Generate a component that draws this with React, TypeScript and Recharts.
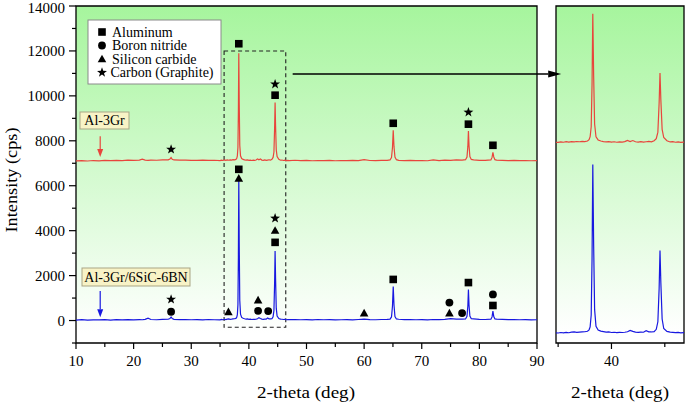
import React from 'react';
import { ComposedChart, Line, Scatter, XAxis, YAxis, ReferenceArea, ReferenceLine } from 'recharts';

// 2-theta positions (deg)
const twoTheta = [
  10, 11, 12, 13, 14, 15, 16, 17, 18, 19,
  20, 21, 21.5, 22, 22.5, 23, 24, 25, 26, 26.3,
  26.5, 26.7, 27, 28, 29, 30, 31, 32, 33, 34,
  35, 35.25, 35.5, 35.75, 36, 36.25, 36.5, 36.75, 37, 37.25,
  37.5, 37.75, 37.9, 38.0, 38.1, 38.18, 38.25, 38.33, 38.42, 38.55,
  38.75, 39.0, 39.25, 39.5, 39.75, 40, 40.25, 40.5, 40.75, 41,
  41.25, 41.5, 41.75, 42, 42.25, 42.5, 42.75, 43, 43.25, 43.5,
  43.75, 44.0, 44.2, 44.35, 44.47, 44.55, 44.63, 44.75, 44.9, 45.2,
  45.5, 45.75, 46, 46.25, 46.5, 46.75, 47, 48, 49, 50,
  51, 52, 53, 54, 55, 56, 57, 58, 59, 60,
  61, 62, 63, 64, 64.5, 64.75, 64.92, 65.05, 65.18, 65.35,
  65.6, 66, 67, 68, 69, 70, 71, 72, 73, 74,
  75, 76, 77, 77.6, 77.85, 78.0, 78.1, 78.2, 78.35, 78.6,
  79, 80, 81, 82.0, 82.2, 82.35, 82.5, 82.7, 83, 84,
  85, 86, 87, 88, 89, 90,
];

// Al-3Gr intensity (cps, offset)
const al3Gr = [
  7105, 7118, 7100, 7122, 7110, 7128, 7115, 7132, 7120, 7136,
  7125, 7140, 7185, 7138, 7130, 7142, 7135, 7148, 7150, 7185,
  7255, 7180, 7148, 7138, 7142, 7132, 7128, 7138, 7125, 7134,
  7118, 7140, 7124, 7146, 7128, 7150, 7135, 7152, 7142, 7158,
  7150, 7170, 7220, 7330, 7700, 9300, 11900, 9600, 7800, 7330,
  7210, 7170, 7150, 7138, 7148, 7128, 7142, 7124, 7138, 7132,
  7146, 7195, 7152, 7188, 7142, 7132, 7148, 7128, 7142, 7155,
  7138, 7180, 7260, 7500, 8600, 9700, 8700, 7600, 7300, 7180,
  7135, 7145, 7124, 7138, 7118, 7130, 7122, 7134, 7118, 7128,
  7112, 7122, 7116, 7126, 7112, 7122, 7116, 7126, 7120, 7165,
  7122, 7116, 7126, 7132, 7150, 7250, 7700, 8470, 7750, 7280,
  7160, 7130, 7120, 7126, 7116, 7122, 7112, 7152, 7120, 7140,
  7126, 7150, 7142, 7160, 7280, 7750, 8430, 7800, 7300, 7170,
  7150, 7132, 7126, 7150, 7260, 7490, 7280, 7160, 7140, 7130,
  7120, 7126, 7116, 7122, 7112, 7118,
];

// Al-3Gr/6SiC-6BN intensity (cps)
const al3GrSiCBN = [
  22, 36, 18, 32, 26, 40, 22, 36, 30, 44,
  28, 40, 36, 50, 105, 46, 36, 50, 56, 90,
  160, 85, 50, 40, 46, 36, 42, 30, 46, 36,
  32, 50, 36, 56, 42, 62, 72, 56, 62, 70,
  78, 95, 150, 260, 700, 2800, 6300, 3300, 900, 280,
  140, 100, 80, 62, 70, 50, 60, 46, 56, 50,
  60, 78, 130, 92, 62, 56, 66, 60, 115, 76,
  70, 80, 170, 450, 1700, 3100, 1900, 550, 200, 90,
  62, 56, 46, 52, 36, 46, 40, 46, 36, 42,
  30, 46, 36, 42, 30, 36, 42, 30, 46, 62,
  40, 36, 46, 52, 60, 160, 650, 1510, 700, 180,
  70, 56, 40, 46, 36, 42, 30, 46, 40, 52,
  82, 60, 66, 70, 190, 650, 1380, 700, 200, 80,
  70, 50, 46, 60, 160, 420, 180, 70, 60, 50,
  40, 46, 36, 42, 30, 36,
];

// phase markers (2-theta, label height)
const aluminumMarks = [
  { x: 38.25, y: 12320 }, { x: 44.55, y: 10030 }, { x: 65.05, y: 8780 }, { x: 78.1, y: 8740 }, { x: 82.35, y: 7800 },
  { x: 38.25, y: 6730 }, { x: 44.55, y: 3480 }, { x: 65.05, y: 1830 }, { x: 78.1, y: 1690 }, { x: 82.35, y: 670 },
];
const boronNitrideMarks = [
  { x: 26.5, y: 390 }, { x: 41.6, y: 430 }, { x: 43.35, y: 420 }, { x: 74.8, y: 800 }, { x: 77.0, y: 330 }, { x: 82.35, y: 1160 },
];
const siliconCarbideMarks = [
  { x: 36.45, y: 390 }, { x: 38.25, y: 6330 }, { x: 41.6, y: 910 }, { x: 44.55, y: 4010 }, { x: 60.0, y: 330 }, { x: 74.8, y: 330 },
];
const graphiteMarks = [
  { x: 26.5, y: 7620 }, { x: 44.55, y: 10520 }, { x: 78.1, y: 9270 }, { x: 26.5, y: 940 }, { x: 44.55, y: 4550 },
];

const legendItems = ['Aluminum', 'Boron nitride', 'Silicon carbide', 'Carbon (Graphite)'];
const sampleLabels = ['Al-3Gr', 'Al-3Gr/6SiC-6BN'];

const mainXTicks = [10, 15, 20, 25, 30, 35, 40, 45, 50, 55, 60, 65, 70, 75, 80, 85, 90];
const mainYTicks = [-1000, 0, 1000, 2000, 3000, 4000, 5000, 6000, 7000, 8000, 9000, 10000, 11000, 12000, 13000, 14000];
const zoomXTicks = [35, 40, 45];

const rows = twoTheta.map((x, i) => ({ x, red: al3Gr[i], blue: al3GrSiCBN[i] }));

const FONT = '"Liberation Serif", "Times New Roman", serif';
const RED = '#e8453c';
const BLUE = '#1818e0';

const squareShape = (p: any) => <rect x={p.cx - 3.8} y={p.cy - 3.8} width={7.6} height={7.6} fill="#000" />;
const circleShape = (p: any) => <circle cx={p.cx} cy={p.cy} r={3.9} fill="#000" />;
const triPoints = (cx: number, cy: number, s = 4.3) =>
  `${cx},${cy - s} ${cx - s},${cy + s * 0.78} ${cx + s},${cy + s * 0.78}`;
const triangleShape = (p: any) => <polygon points={triPoints(p.cx, p.cy)} fill="#000" />;
const starPoints = (cx: number, cy: number, ro = 5.2, ri = 2.1) => {
  const pts: string[] = [];
  for (let k = 0; k < 10; k++) {
    const r = k % 2 === 0 ? ro : ri;
    const a = -Math.PI / 2 + (k * Math.PI) / 5;
    pts.push(`${(cx + r * Math.cos(a)).toFixed(2)},${(cy + r * Math.sin(a)).toFixed(2)}`);
  }
  return pts.join(' ');
};
const starShape = (p: any) => <polygon points={starPoints(p.cx, p.cy)} fill="#000" />;

const arrowShape = (color: string, head: number, half: number, width: number) => (p: any) => {
  const { x1, y1, x2, y2 } = p;
  const dx = x2 - x1;
  const dy = y2 - y1;
  const len = Math.hypot(dx, dy) || 1;
  const ux = dx / len;
  const uy = dy / len;
  const bx = x2 - ux * head;
  const by = y2 - uy * head;
  return (
    <g>
      <line x1={x1} y1={y1} x2={bx} y2={by} stroke={color} strokeWidth={width} />
      <polygon
        points={`${x2},${y2} ${bx - uy * half},${by + ux * half} ${bx + uy * half},${by - ux * half}`}
        fill={color}
      />
    </g>
  );
};

const makeXTick = (labelEvery: number) => (props: any) => {
  const { x, y, payload } = props;
  const v = payload.value;
  const major = Math.abs(v % labelEvery) < 1e-6;
  return (
    <g>
      <line x1={x} x2={x} y1={y} y2={y + (major ? 6 : 4)} stroke="#000" strokeWidth={1.2} />
      {major && (
        <text x={x} y={y + 23} textAnchor="middle" fontFamily={FONT} fontSize={15} fill="#000">
          {v}
        </text>
      )}
    </g>
  );
};

const YTick = (props: any) => {
  const { x, y, payload } = props;
  const v = payload.value;
  const major = v >= 0 && v % 2000 === 0;
  const shift = v === 14000 ? 1.5 : 0;
  return (
    <g>
      <line x1={x} x2={x - (major ? 7 : 4)} y1={y} y2={y} stroke="#000" strokeWidth={1.2} />
      {major && (
        <text x={x - 11} y={y + shift} dy="0.35em" textAnchor="end" fontFamily={FONT} fontSize={15} fill="#000">
          {v}
        </text>
      )}
    </g>
  );
};

const MarkerGlyph = ({ kind, cx, cy }: { kind: number; cx: number; cy: number }) => {
  if (kind === 0) return squareShape({ cx, cy });
  if (kind === 1) return circleShape({ cx, cy });
  if (kind === 2) return triangleShape({ cx, cy });
  return starShape({ cx, cy });
};

export default function App() {
  return (
    <div style={{ position: 'absolute', left: 0, top: 0, width: 685, height: 404, background: '#fff', overflow: 'hidden' }}>
      <svg width={0} height={0} style={{ position: 'absolute' }}>
        <defs>
          <linearGradient id="bgGreen" x1="0" y1="0" x2="0" y2="1">
            <stop offset="0" stopColor="#a6f59d" />
            <stop offset="0.97" stopColor="#ffffff" />
            <stop offset="1" stopColor="#ffffff" />
          </linearGradient>
        </defs>
      </svg>

      {/* zoomed panel */}
      <div style={{ position: 'absolute', left: 540, top: 0 }}>
        <ComposedChart width={145} height={404} data={rows} margin={{ top: 6, right: 1, bottom: 0, left: 16 }}>
          <XAxis
            type="number"
            dataKey="x"
            domain={[34.8, 46.8]}
            ticks={zoomXTicks}
            interval={0}
            allowDataOverflow
            height={61}
            tickSize={0}
            tickMargin={0}
            tickLine={false}
            axisLine={false}
            tick={makeXTick(10)}
          />
          <YAxis type="number" hide domain={[-340, 12190]} allowDataOverflow />
          <ReferenceArea x1={34.8} x2={46.8} y1={-340} y2={12190} fill="url(#bgGreen)" fillOpacity={1} stroke="#000" strokeWidth={1.3} ifOverflow="visible" />
          <Line type="linear" dataKey="red" stroke={RED} strokeWidth={1.2} dot={false} isAnimationActive={false} />
          <Line type="linear" dataKey="blue" stroke={BLUE} strokeWidth={1.2} dot={false} isAnimationActive={false} />
        </ComposedChart>
      </div>

      {/* main panel */}
      <div style={{ position: 'absolute', left: 0, top: 0 }}>
        <ComposedChart width={685} height={404} data={rows} margin={{ top: 6, right: 148, bottom: 0, left: 10 }}>
          <XAxis
            type="number"
            dataKey="x"
            domain={[10, 90]}
            ticks={mainXTicks}
            interval={0}
            allowDataOverflow
            height={61}
            tickSize={0}
            tickMargin={0}
            tickLine={false}
            axisLine={false}
            tick={makeXTick(10)}
          />
          <YAxis
            type="number"
            domain={[-1000, 14000]}
            ticks={mainYTicks}
            interval={0}
            allowDataOverflow
            width={66}
            tickSize={0}
            tickMargin={0}
            tickLine={false}
            axisLine={false}
            tick={YTick}
          />
          <ReferenceArea x1={10} x2={90} y1={-1000} y2={14000} fill="url(#bgGreen)" fillOpacity={1} stroke="#000" strokeWidth={1.3} ifOverflow="visible" />
          <ReferenceArea x1={35.7} x2={46.4} y1={-300} y2={12000} fill="none" fillOpacity={0} stroke="#222" strokeWidth={1.1} strokeDasharray="4 3" ifOverflow="visible" />
          <Line type="linear" dataKey="red" stroke={RED} strokeWidth={1.2} dot={false} isAnimationActive={false} />
          <Line type="linear" dataKey="blue" stroke={BLUE} strokeWidth={1.2} dot={false} isAnimationActive={false} />
          <Scatter data={aluminumMarks} dataKey="y" shape={squareShape} isAnimationActive={false} />
          <Scatter data={boronNitrideMarks} dataKey="y" shape={circleShape} isAnimationActive={false} />
          <Scatter data={siliconCarbideMarks} dataKey="y" shape={triangleShape} isAnimationActive={false} />
          <Scatter data={graphiteMarks} dataKey="y" shape={starShape} isAnimationActive={false} />
          <ReferenceLine segment={[{ x: 47.6, y: 10970 }, { x: 94.2, y: 10970 }]} ifOverflow="visible" shape={arrowShape('#000', 13, 3.5, 1.5)} />
          <ReferenceLine segment={[{ x: 14.2, y: 8200 }, { x: 14.2, y: 7280 }]} ifOverflow="visible" shape={arrowShape(RED, 8, 3, 1.2)} />
          <ReferenceLine segment={[{ x: 14.2, y: 1320 }, { x: 14.2, y: 150 }]} ifOverflow="visible" shape={arrowShape(BLUE, 8, 3, 1.2)} />
        </ComposedChart>
      </div>

      {/* annotations */}
      <svg width={685} height={404} style={{ position: 'absolute', left: 0, top: 0, pointerEvents: 'none' }}>
        <rect x={88} y={20} width={133} height={64} fill="#fff" stroke="#8a8a8a" strokeWidth={1} />
        {legendItems.map((name, i) => (
          <g key={name}>
            <MarkerGlyph kind={i} cx={102} cy={32 + i * 13.5} />
            <text x={112 - (i === 3 ? 1.5 : 0)} y={32 + i * 13.5} dy="0.35em" fontFamily={FONT} fontSize={14} fill="#000">
              {name}
            </text>
          </g>
        ))}
        <rect x={80} y={112} width={49} height={17} fill="#f8f3c6" stroke="#a9a585" strokeWidth={1} />
        <text x={104.5} y={120.5} dy="0.35em" textAnchor="middle" fontFamily={FONT} fontSize={14} fill="#000">
          {sampleLabels[0]}
        </text>
        <rect x={82} y={268} width={108} height={18} fill="#f8f3c6" stroke="#a9a585" strokeWidth={1} />
        <text x={136} y={277} dy="0.35em" textAnchor="middle" fontFamily={FONT} fontSize={14} fill="#000">
          {sampleLabels[1]}
        </text>
        <text
          transform="translate(17,180) rotate(-90)"
          textAnchor="middle"
          fontFamily={FONT}
          fontSize={17}
          textLength={105}
          lengthAdjust="spacingAndGlyphs"
          fill="#000"
        >
          Intensity (cps)
        </text>
        <text x={306} y={398} textAnchor="middle" fontFamily={FONT} fontSize={17} textLength={98} lengthAdjust="spacingAndGlyphs" fill="#000">
          2-theta (deg)
        </text>
        <text x={620} y={398} textAnchor="middle" fontFamily={FONT} fontSize={17} textLength={98} lengthAdjust="spacingAndGlyphs" fill="#000">
          2-theta (deg)
        </text>
      </svg>
    </div>
  );
}
